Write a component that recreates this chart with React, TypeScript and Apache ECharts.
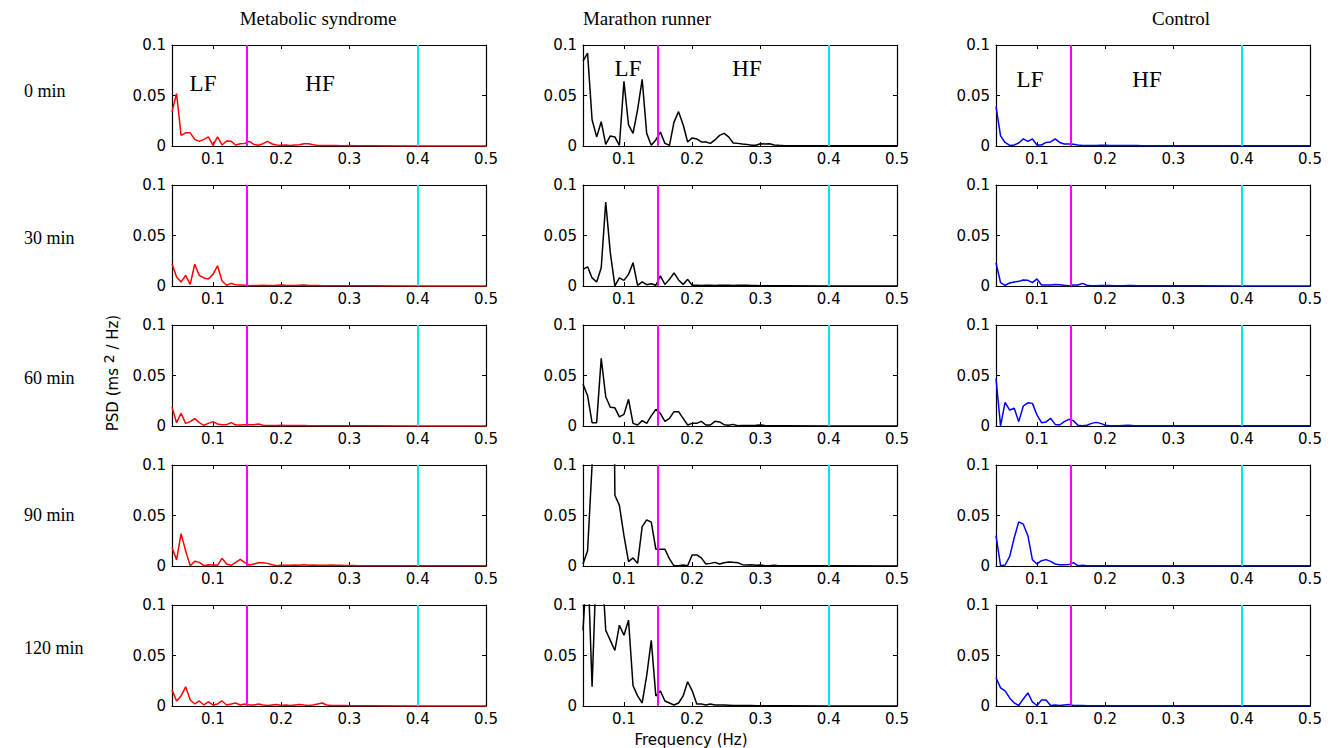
import React, { useEffect, useRef } from 'react';
import * as echarts from 'echarts';

// Frequency grid (Hz)
const FREQ = [0.04, 0.0467, 0.0533, 0.06, 0.0667, 0.0733, 0.08, 0.0867, 0.0933, 0.1, 0.1067, 0.1133, 0.12, 0.1267, 0.1333, 0.14, 0.1467, 0.1533, 0.16, 0.1667, 0.1733, 0.18, 0.1867, 0.1933, 0.2, 0.2067, 0.2133, 0.22, 0.2267, 0.2333, 0.24, 0.2467, 0.2533, 0.26, 0.2667, 0.2733, 0.28, 0.2867, 0.2933, 0.3, 0.3067, 0.3133, 0.32, 0.3267, 0.3333, 0.4, 0.5];

const GROUPS = ['Metabolic syndrome', 'Marathon runner', 'Control'];
const TIMES = ['0 min', '30 min', '60 min', '90 min', '120 min'];
const X_TICKS = [0.1, 0.2, 0.3, 0.4, 0.5];
const X_MIN = 0.04;
const X_MAX = 0.5;
const Y_MIN = 0;
const Y_MAX = 0.1;
const Y_STEP = 0.05;
const LF_HF_BOUND = 0.15;
const HF_UPPER = 0.4;

// Metabolic syndrome
const metabolic0 = [0.034, 0.052, 0.0105, 0.013, 0.013, 0.0066, 0.0046, 0.0066, 0.009, 0.0007, 0.009, 0.001, 0.005, 0.0046, 0.001, 0.0023, 0.0026, 0.0046, 0.0016, 0.0007, 0.0023, 0.0046, 0.002, 0.001, 0.0007, 0.001, 0.0006, 0.001, 0.0013, 0.0023, 0.0023, 0.0013, 0.0006, 0.0005, 0.0005, 0.0004, 0.0004, 0.0003, 0.0003, 0.0004, 0.0003, 0.0003, 0.0002, 0.0002, 0.0002, 0.0001, 0.0001];
const metabolic30 = [0.022, 0.009, 0.004, 0.0105, 0.0016, 0.0215, 0.0105, 0.008, 0.007, 0.0115, 0.02, 0.005, 0.0007, 0.0026, 0.0013, 0.001, 0.0007, 0.0002, 0.0005, 0.0006, 0.0007, 0.0005, 0.0006, 0.0007, 0.001, 0.0007, 0.0005, 0.0006, 0.0008, 0.001, 0.0006, 0.0004, 0.0004, 0.0003, 0.0003, 0.0003, 0.0003, 0.0002, 0.0002, 0.0002, 0.0002, 0.0002, 0.0002, 0.0002, 0.0002, 0.0001, 0.0001];
const metabolic60 = [0.0185, 0.0033, 0.0125, 0.0026, 0.0043, 0.0073, 0.0033, 0.0007, 0.0026, 0.0043, 0.002, 0.0013, 0.0013, 0.0033, 0.001, 0.001, 0.0013, 0.0013, 0.0013, 0.002, 0.0007, 0.0005, 0.0005, 0.0006, 0.0008, 0.0005, 0.0004, 0.0004, 0.0004, 0.0004, 0.0003, 0.0003, 0.0003, 0.0003, 0.0003, 0.0003, 0.0002, 0.0002, 0.0002, 0.0002, 0.0002, 0.0002, 0.0002, 0.0002, 0.0002, 0.0001, 0.0001];
const metabolic90 = [0.0185, 0.006, 0.032, 0.015, 0.0002, 0.0046, 0.0036, 0.0003, 0.0013, 0.001, 0.0007, 0.0076, 0.002, 0.0007, 0.0036, 0.0066, 0.0033, 0.001, 0.002, 0.0033, 0.0033, 0.0026, 0.0013, 0.0003, 0.0007, 0.0008, 0.0007, 0.001, 0.0008, 0.0013, 0.0008, 0.001, 0.0007, 0.0007, 0.0008, 0.001, 0.0007, 0.0007, 0.0005, 0.0004, 0.0004, 0.0003, 0.0003, 0.0003, 0.0003, 0.0002, 0.0002];
const metabolic120 = [0.016, 0.005, 0.01, 0.019, 0.006, 0.002, 0.005, 0.001, 0.004, 0.001, 0.002, 0.005, 0.001, 0.002, 0.003, 0.001, 0.002, 0.001, 0.001, 0.002, 0.001, 0.0005, 0.001, 0.0015, 0.0005, 0.001, 0.0005, 0.001, 0.0015, 0.001, 0.0005, 0.001, 0.002, 0.003, 0.001, 0.0006, 0.0005, 0.0004, 0.0004, 0.0003, 0.0003, 0.0003, 0.0003, 0.0002, 0.0002, 0.0001, 0.0001];

// Marathon runner
const marathon0 = [0.084, 0.092, 0.026, 0.009, 0.024, 0.0016, 0.01, 0.009, 0.0007, 0.064, 0.021, 0.0125, 0.036, 0.066, 0.0125, 0.0007, 0.006, 0.0138, 0.0026, 0.0007, 0.0236, 0.034, 0.021, 0.004, 0.008, 0.007, 0.004, 0.004, 0.0026, 0.006, 0.0105, 0.0125, 0.009, 0.003, 0.0026, 0.002, 0.0016, 0.0007, 0.0007, 0.0023, 0.002, 0.0023, 0.001, 0.0007, 0.0005, 0.0003, 0.0002];
const marathon30 = [0.0165, 0.019, 0.008, 0.004, 0.018, 0.083, 0.033, 0.0002, 0.008, 0.0056, 0.0115, 0.023, 0.0007, 0.004, 0.0013, 0.0023, 0.0007, 0.01, 0.0016, 0.0066, 0.013, 0.006, 0.0016, 0.0066, 0.0007, 0.0007, 0.0005, 0.0007, 0.0008, 0.0006, 0.0008, 0.0007, 0.0008, 0.0006, 0.0007, 0.0008, 0.0007, 0.0005, 0.0004, 0.0003, 0.0003, 0.0002, 0.0002, 0.0002, 0.0002, 0.0001, 0.0001];
const marathon60 = [0.0415, 0.03, 0.0033, 0.0033, 0.067, 0.029, 0.0185, 0.018, 0.009, 0.0115, 0.0264, 0.0026, 0.001, 0.0053, 0.0026, 0.01, 0.0165, 0.0125, 0.0046, 0.0076, 0.0142, 0.0142, 0.0076, 0.001, 0.0026, 0.0026, 0.0046, 0.001, 0.001, 0.0046, 0.004, 0.0013, 0.0007, 0.0016, 0.0003, 0.0004, 0.0005, 0.0006, 0.0007, 0.001, 0.0005, 0.0003, 0.0003, 0.0002, 0.0002, 0.0001, 0.0001];
const marathon90 = [0.002, 0.015, 0.1, 0.25, 0.3, 0.3, 0.6, 0.07, 0.06, 0.03, 0.0043, 0.008, 0.0026, 0.039, 0.0457, 0.0434, 0.0166, 0.0166, 0.0166, 0.007, 0.0002, 0.0002, 0.001, 0.0002, 0.011, 0.011, 0.008, 0.002, 0.0026, 0.0036, 0.002, 0.0033, 0.004, 0.0036, 0.0033, 0.0013, 0.001, 0.0013, 0.0007, 0.001, 0.0003, 0.0003, 0.0007, 0.0003, 0.0002, 0.0002, 0.0001];
const marathon120 = [0.075, 0.15, 0.019, 0.15, 0.15, 0.075, 0.065, 0.055, 0.08, 0.07, 0.085, 0.02, 0.01, 0.003, 0.03, 0.065, 0.01, 0.015, 0.005, 0.003, 0.001, 0.003, 0.01, 0.024, 0.015, 0.002, 0.002, 0.001, 0.002, 0.001, 0.001, 0.001, 0.0008, 0.0006, 0.0005, 0.0005, 0.0004, 0.0004, 0.0003, 0.0003, 0.0003, 0.0002, 0.0002, 0.0002, 0.0002, 0.0001, 0.0001];

// Control
const control0 = [0.039, 0.01, 0.0035, 0.0005, 0.001, 0.003, 0.007, 0.0045, 0.007, 0.001, 0.001, 0.0035, 0.004, 0.007, 0.0035, 0.002, 0.002, 0.0017, 0.001, 0.0005, 0.0005, 0.0005, 0.0006, 0.0007, 0.0008, 0.0006, 0.0005, 0.0005, 0.0004, 0.0004, 0.0004, 0.0004, 0.0003, 0.0003, 0.0003, 0.0003, 0.0003, 0.0003, 0.0003, 0.0003, 0.0002, 0.0002, 0.0002, 0.0002, 0.0002, 0.0002, 0.0002];
const control30 = [0.023, 0.0033, 0.0007, 0.003, 0.004, 0.0046, 0.006, 0.0056, 0.0033, 0.007, 0.001, 0.001, 0.001, 0.0016, 0.0013, 0.0007, 0.0003, 0.001, 0.001, 0.0026, 0.0007, 0.0003, 0.0003, 0.0004, 0.0005, 0.0004, 0.0003, 0.0003, 0.0003, 0.0004, 0.0004, 0.0003, 0.0003, 0.0003, 0.0003, 0.0003, 0.0002, 0.0002, 0.0002, 0.0002, 0.0002, 0.0002, 0.0002, 0.0002, 0.0002, 0.0001, 0.0001];
const control60 = [0.047, 0.0001, 0.0234, 0.0158, 0.0175, 0.0043, 0.0198, 0.023, 0.0224, 0.011, 0.0033, 0.004, 0.0076, 0.0016, 0.001, 0.0043, 0.0066, 0.0053, 0.0007, 0.0003, 0.0007, 0.0026, 0.0036, 0.0026, 0.0007, 0.0003, 0.0003, 0.0003, 0.0005, 0.0007, 0.0004, 0.0003, 0.0003, 0.0003, 0.0003, 0.0002, 0.0002, 0.0002, 0.0002, 0.0002, 0.0002, 0.0002, 0.0002, 0.0002, 0.0002, 0.0002, 0.0002];
const control90 = [0.03, 0.0003, 0.001, 0.0093, 0.028, 0.0437, 0.0414, 0.03, 0.0063, 0.002, 0.0053, 0.0063, 0.0046, 0.002, 0.0013, 0.0013, 0.0016, 0.0033, 0.0003, 0.0007, 0.0003, 0.0003, 0.0003, 0.0003, 0.0003, 0.0003, 0.0003, 0.0003, 0.0003, 0.0003, 0.0002, 0.0002, 0.0002, 0.0002, 0.0002, 0.0002, 0.0002, 0.0002, 0.0002, 0.0002, 0.0002, 0.0002, 0.0002, 0.0002, 0.0002, 0.0002, 0.0002];
const control120 = [0.028, 0.018, 0.015, 0.008, 0.003, 0.0005, 0.007, 0.013, 0.004, 0.0005, 0.006, 0.006, 0.0005, 0.001, 0.0005, 0.001, 0.0015, 0.0005, 0.0005, 0.0004, 0.0003, 0.0003, 0.0003, 0.0003, 0.0003, 0.0003, 0.0003, 0.0003, 0.0003, 0.0003, 0.0002, 0.0002, 0.0002, 0.0002, 0.0002, 0.0002, 0.0002, 0.0002, 0.0002, 0.0002, 0.0002, 0.0002, 0.0002, 0.0002, 0.0002, 0.0002, 0.0002];

const PANELS = [
  [metabolic0, marathon0, control0],
  [metabolic30, marathon30, control30],
  [metabolic60, marathon60, control60],
  [metabolic90, marathon90, control90],
  [metabolic120, marathon120, control120],
];
const COLORS = ['#ff0000', '#000000', '#0000ff'];

// layout (pixels)
const COL_LEFT = [172, 583, 996];
const PLOT_W = 314;
const ROW_TOP = [45, 185, 325, 465, 605];
const PLOT_H = 101;
const TITLE_X = [318, 647, 1181];
const ROW_LABEL_Y = [91, 238, 378, 515, 648];
const LF_POS = [[203, 83], [628, 68], [1030, 79]];
const HF_POS = [[320, 83], [747, 68], [1147, 79]];

const SANS = 'DejaVu Sans';
const SERIF = 'Liberation Serif';

function buildOption() {
  const grid: any[] = [];
  const xAxis: any[] = [];
  const yAxis: any[] = [];
  const series: any[] = [];
  const tick = { show: true, inside: true, length: 4, lineStyle: { color: '#000', width: 1 } };
  const line = { show: true, onZero: false, lineStyle: { color: '#000', width: 1.2 } };
  let k = 0;
  PANELS.forEach((row, r) => {
    row.forEach((vals, c) => {
      grid.push({ left: COL_LEFT[c], top: ROW_TOP[r], width: PLOT_W, height: PLOT_H, containLabel: false });
      const xBase = {
        type: 'value', gridIndex: k, min: X_MIN, max: X_MAX,
        axisLine: line, splitLine: { show: false },
        axisTick: { ...tick, customValues: X_TICKS },
      };
      xAxis.push({
        ...xBase, position: 'bottom',
        axisLabel: { show: true, customValues: X_TICKS, fontFamily: SANS, fontSize: 15, color: '#000', margin: 5, formatter: (v: number) => String(v) },
      });
      xAxis.push({ ...xBase, position: 'top', axisLabel: { show: false } });
      const yBase = {
        type: 'value', gridIndex: k, min: Y_MIN, max: Y_MAX, interval: Y_STEP,
        axisLine: line, splitLine: { show: false }, axisTick: tick,
      };
      yAxis.push({
        ...yBase, position: 'left',
        axisLabel: { show: true, fontFamily: SANS, fontSize: 15, color: '#000', margin: 6, formatter: (v: number) => (v === 0 ? '0' : String(+v.toFixed(3))) },
      });
      yAxis.push({ ...yBase, position: 'right', axisLabel: { show: false } });
      series.push({
        type: 'line', xAxisIndex: 2 * k, yAxisIndex: 2 * k,
        data: FREQ.map((f, i) => [f, vals[i]]),
        symbol: 'none', clip: true,
        lineStyle: { color: COLORS[c], width: 1.5 },
        itemStyle: { color: COLORS[c] },
        markLine: {
          silent: true, symbol: ['none', 'none'], label: { show: false },
          lineStyle: { type: 'solid', width: 2 },
          data: [
            { xAxis: LF_HF_BOUND, lineStyle: { color: '#ff00ff', type: 'solid', width: 2 } },
            { xAxis: HF_UPPER, lineStyle: { color: '#00e5ee', type: 'solid', width: 2 } },
          ],
        },
      });
      k++;
    });
  });

  const txt = (x: number, y: number, text: string, font: string, size: number, align = 'center', extra: any = {}) => ({
    type: 'text', x, y, silent: true,
    style: { text, fontFamily: font, fontSize: size, fill: '#000', align, verticalAlign: 'middle', textAlign: align, textVerticalAlign: 'middle', ...extra },
  });

  const graphic: any[] = [];
  GROUPS.forEach((g, c) => graphic.push(txt(TITLE_X[c], 18, g, SERIF, 19)));
  TIMES.forEach((t, r) => graphic.push(txt(24, ROW_LABEL_Y[r], t, SERIF, 18, 'left')));
  LF_POS.forEach((p) => graphic.push(txt(p[0], p[1], 'LF', SERIF, 23)));
  HF_POS.forEach((p) => graphic.push(txt(p[0], p[1], 'HF', SERIF, 23)));
  graphic.push(txt(691, 740, 'Frequency (Hz)', SANS, 15));
  graphic.push({
    type: 'text', x: 113, y: 373, rotation: Math.PI / 2, silent: true,
    style: {
      text: 'PSD (ms {sup|2} / Hz)', fontFamily: SANS, fontSize: 15, fill: '#000',
      align: 'center', verticalAlign: 'middle', textAlign: 'center', textVerticalAlign: 'middle',
      rich: { sup: { fontFamily: SANS, fontSize: 14, fill: '#000', padding: [0, 0, 9, 0] } },
    },
  });

  return { animation: false, backgroundColor: '#ffffff', grid, xAxis, yAxis, series, graphic };
}

export default function App() {
  const ref = useRef<HTMLDivElement>(null);
  useEffect(() => {
    if (!ref.current) return;
    const chart = echarts.init(ref.current, undefined, { renderer: 'svg' });
    chart.setOption(buildOption() as any);
    return () => chart.dispose();
  }, []);
  return <div ref={ref} style={{ position: 'fixed', left: 0, top: 0, width: 1334, height: 748, background: '#fff' }} />;
}
